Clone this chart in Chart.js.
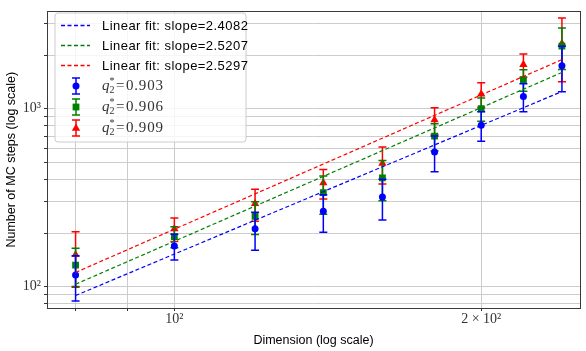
<!DOCTYPE html>
<html><head><meta charset="utf-8">
<script src="https://cdn.jsdelivr.net/npm/chart.js@4/dist/chart.umd.min.js"></script>
<style>html,body{margin:0;padding:0;background:#fff}#wrap{width:586px;height:351px;position:relative}</style>
</head><body><div id="wrap"><canvas id="c"></canvas></div>
<script>
// ---- data ----
const dims = [80, 100, 120, 140, 160, 180, 200, 220, 240];
const q903 = [116, 169, 211, 265, 319, 572, 809, 1173, 1748];
const q903Err = [33, 28, 51, 63, 82, 130, 153, 210, 500];
const q906 = [132, 191, 248, 337, 408, 701, 1000, 1456, 2254];
const q906Err = [32, 26, 52, 82, 104, 122, 150, 200, 590];
const q909 = [151, 211, 293, 383, 493, 865, 1210, 1771, 2330];
const q909Err = [52, 32, 60, 72, 116, 148, 192, 265, 910];
const fitX = [80, 240];
const fitBlue = [89, 1250];
const fitGreen = [103, 1600];
const fitRed = [120, 1890];
const slopes = ['2.4082', '2.5207', '2.5297'];
const qLabels = ['0.903', '0.906', '0.909'];
const xTicks = [80, 90, 100, 200];
const yTicks = [80, 90, 100, 200, 300, 400, 500, 600, 700, 800, 900, 1000, 2000, 3000];

const BLUE = '#0000ff', GREEN = '#008000', RED = '#ff0000';
const pts = (xs, ys) => xs.map((x, i) => ({x, y: ys[i]}));

function drawMarker(ctx, style, x, y, color) {
  ctx.save(); ctx.fillStyle = color;
  ctx.beginPath();
  if (style === 'circle') ctx.arc(x, y, 3.5, 0, Math.PI * 2);
  else if (style === 'rect') ctx.rect(x - 3.4, y - 3.4, 6.8, 6.8);
  else { ctx.moveTo(x, y - 4.6); ctx.lineTo(x + 4.2, y + 2.7); ctx.lineTo(x - 4.2, y + 2.7); ctx.closePath(); }
  ctx.fill(); ctx.restore();
}
function drawErr(ctx, x, y1, y2, color) {
  ctx.save(); ctx.setLineDash([]); ctx.strokeStyle = color; ctx.lineWidth = 1.5; ctx.beginPath();
  ctx.moveTo(x, y1); ctx.lineTo(x, y2);
  ctx.moveTo(x - 4, y1); ctx.lineTo(x + 4, y1);
  ctx.moveTo(x - 4, y2); ctx.lineTo(x + 4, y2);
  ctx.stroke(); ctx.restore();
}

const errPlugin = {
  id: 'errbars',
  beforeDatasetDraw(chart, args) {
    const ds = chart.data.datasets[args.index];
    if (!ds.err) return;
    const ctx = chart.ctx, xs = chart.scales.x, ys = chart.scales.y;
    ds.data.forEach((p, i) => {
      const e = ds.err[i];
      drawErr(ctx, xs.getPixelForValue(p.x), ys.getPixelForValue(p.y + e), ys.getPixelForValue(Math.max(p.y - e, 1)), ds.borderColor);
    });
  }
};

const framePlugin = {
  id: 'frame',
  afterDatasetsDraw(chart) {
    const {ctx, chartArea: a} = chart;
    ctx.save(); ctx.strokeStyle = '#3a3a3a'; ctx.lineWidth = 1;
    ctx.strokeRect(Math.round(a.left) + 0.5, Math.round(a.top) + 0.5, Math.round(a.right - a.left), Math.round(a.bottom - a.top));
    ctx.restore();
  }
};

const legendPlugin = {
  id: 'mplLegend',
  afterDraw(chart) {
    const ctx = chart.ctx;
    const bx = 55, by = 13, bw = 191, bh = 129, r = 3;
    ctx.save();
    ctx.beginPath();
    ctx.moveTo(bx + r, by); ctx.lineTo(bx + bw - r, by); ctx.quadraticCurveTo(bx + bw, by, bx + bw, by + r);
    ctx.lineTo(bx + bw, by + bh - r); ctx.quadraticCurveTo(bx + bw, by + bh, bx + bw - r, by + bh);
    ctx.lineTo(bx + r, by + bh); ctx.quadraticCurveTo(bx, by + bh, bx, by + bh - r);
    ctx.lineTo(bx, by + r); ctx.quadraticCurveTo(bx, by, bx + r, by);
    ctx.closePath();
    ctx.fillStyle = 'rgba(255,255,255,0.8)'; ctx.fill();
    ctx.strokeStyle = '#cccccc'; ctx.lineWidth = 1; ctx.stroke();
    ctx.restore();
    const cols = [BLUE, GREEN, RED];
    const styles = ['circle', 'rect', 'triangle'];
    const rows = [25, 45, 65, 86, 107, 128];
    for (let i = 0; i < 3; i++) {
      const y = rows[i];
      ctx.save();
      ctx.beginPath();
      ctx.strokeStyle = cols[i]; ctx.lineWidth = 1.3; ctx.setLineDash([4, 2.5]);
      ctx.moveTo(61, y + 0.5); ctx.lineTo(90, y + 0.5); ctx.stroke();
      ctx.restore();
      ctx.save();
      ctx.textBaseline = 'middle';
      ctx.fillStyle = '#000'; ctx.font = '13px "Liberation Sans"';
      try { ctx.letterSpacing = '0.45px'; } catch (e) {}
      ctx.fillText('Linear fit: slope=' + slopes[i], 102, y + 1);
      ctx.restore();
    }
    for (let i = 0; i < 3; i++) {
      const y = rows[i + 3];
      drawErr(ctx, 76, y - 8, y + 8, cols[i]);
      drawMarker(ctx, styles[i], 76, y, cols[i]);
      ctx.save();
      ctx.textBaseline = 'middle';
      ctx.fillStyle = '#333';
      ctx.font = 'italic 15px "Liberation Serif"';
      ctx.fillText('q', 102, y);
      ctx.font = '10px "Liberation Serif"';
      ctx.fillText('2', 109.5, y + 4);
      ctx.fillText('*', 109.5, y - 5);
      ctx.font = '15px "Liberation Serif"';
      ctx.fillText('=', 116, y);
      try { ctx.letterSpacing = '0.8px'; } catch (e) {}
      ctx.fillText(qLabels[i], 126, y);
      ctx.restore();
    }
  }
};

Chart.defaults.font.family = '"Liberation Sans", sans-serif';
Chart.defaults.color = '#000';

new Chart(document.getElementById('c'), {
  type: 'scatter',
  data: {
    datasets: [
      {label: 'fit1', data: pts(fitX, fitBlue), showLine: true, borderColor: BLUE, borderWidth: 1.2, borderDash: [4, 2.5], pointRadius: 0, fill: false},
      {label: 'fit2', data: pts(fitX, fitGreen), showLine: true, borderColor: GREEN, borderWidth: 1.2, borderDash: [4, 2.5], pointRadius: 0, fill: false},
      {label: 'fit3', data: pts(fitX, fitRed), showLine: true, borderColor: RED, borderWidth: 1.2, borderDash: [4, 2.5], pointRadius: 0, fill: false},
      {label: 'q903', data: pts(dims, q903), err: q903Err, borderColor: BLUE, backgroundColor: BLUE, pointStyle: 'circle', pointRadius: 3.5, borderWidth: 0},
      {label: 'q906', data: pts(dims, q906), err: q906Err, borderColor: GREEN, backgroundColor: GREEN, pointStyle: 'rect', pointRadius: 4.8, borderWidth: 0},
      {label: 'q909', data: pts(dims, q909), err: q909Err, borderColor: RED, backgroundColor: RED, pointStyle: 'triangle', pointRadius: 4.8, borderWidth: 0}
    ]
  },
  options: {
    responsive: true, maintainAspectRatio: false, animation: false,
    layout: {padding: {top: 5, right: 6, left: 0, bottom: 0}},
    plugins: {legend: {display: false}, tooltip: {enabled: false}},
    scales: {
      x: {
        type: 'logarithmic', min: 75, max: 250,
        afterBuildTicks(s) { s.ticks = xTicks.map(v => ({value: v})); },
        afterFit(s) { s.height = 43; },
        ticks: {autoSkip: false, maxRotation: 0, minRotation: 0, padding: 0, color: '#333',
          font: {family: '"Liberation Serif"', size: 14},
          callback(v) { return v === 100 ? '10²' : (v === 200 ? '2 × 10²' : ''); }},
        grid: {color: '#cccccc', tickColor: '#333', tickLength: 3},
        border: {display: false},
        title: {display: true, text: 'Dimension (log scale)', font: {size: 12.5}, color: '#000', padding: {top: 0, bottom: 3}}
      },
      y: {
        type: 'logarithmic', min: 75.7, max: 3530,
        afterBuildTicks(s) { s.ticks = yTicks.map(v => ({value: v})); },
        afterFit(s) { s.width = 47; },
        ticks: {autoSkip: false, padding: 3, color: '#333',
          font: {family: '"Liberation Serif"', size: 14},
          callback(v) { return v === 100 ? '10²' : (v === 1000 ? '10³' : ''); }},
        grid: {color: '#cccccc', tickColor: '#333', tickLength: 3},
        border: {display: false},
        title: {display: true, text: 'Number of MC steps (log scale)', font: {size: 12.5}, color: '#000', padding: {top: 4, bottom: 0}}
      }
    }
  },
  plugins: [errPlugin, framePlugin, legendPlugin]
});
</script></body></html>
